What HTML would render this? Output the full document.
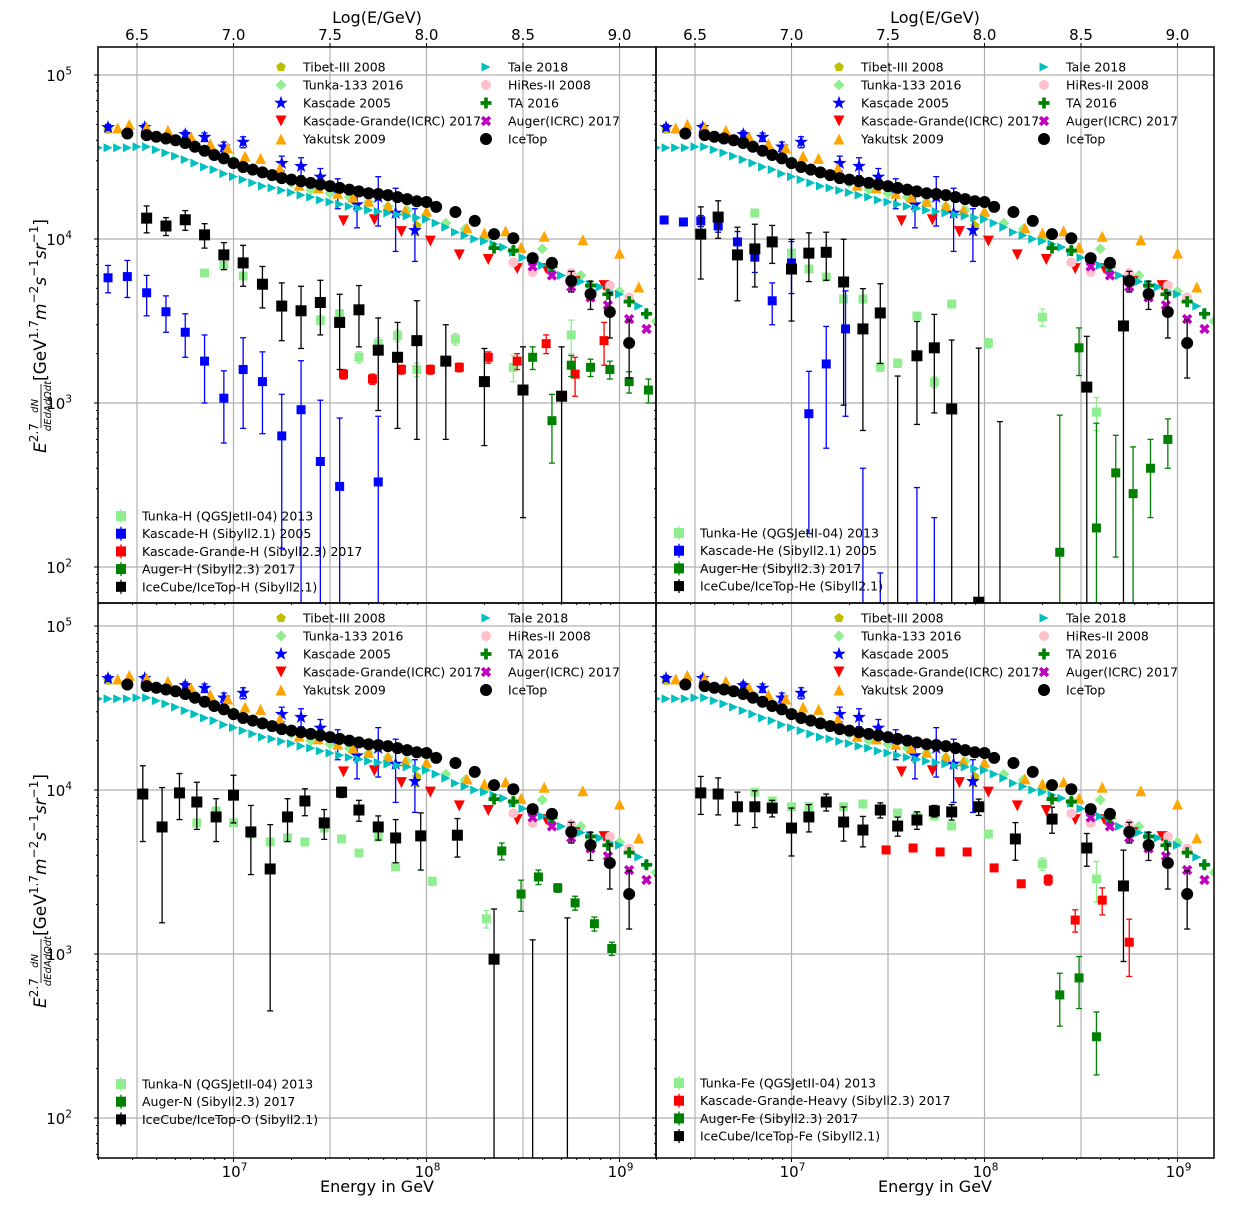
<!DOCTYPE html>
<html><head><meta charset="utf-8"><style>
html,body{margin:0;padding:0;background:#fff}
svg{display:block;font-family:"DejaVu Sans","Liberation Sans",sans-serif}
</style></head><body>
<svg id="chart" width="1255" height="1212" viewBox="0 0 1255 1212" xmlns="http://www.w3.org/2000/svg"></svg>
<script>
// ---------- all-particle data (log10 E/GeV, flux) ----------
const icetopE=[6.45,6.55,6.60,6.65,6.70,6.75,6.80,6.85,6.90,6.95,7.00,7.05,7.10,7.15,7.20,7.25,7.30,7.35,7.40,7.45,7.50,7.55,7.60,7.65,7.70,7.75,7.80,7.85,7.90,7.95,8.00,8.05,8.15,8.25,8.35,8.45,8.55,8.65,8.75,8.85,8.95,9.05];
const icetopF=[44000,43000,42000,41000,40000,38500,36500,34500,32500,31000,29000,27500,26500,25500,24500,23500,23000,22500,22000,21500,21000,20500,20000,19500,19000,18800,18500,18000,17500,17000,16800,15700,14600,12900,10700,10100,7650,7150,5550,4620,3590,2320];
const icetopErr=[0,0,0,0,0,0,0,0,0,0,0,0,0,0,0,0,0,0,0,0,0,0,0,0,0,0,0,0,0,0,0,0,0,0,0,0,0,500,800,900,1100,900];
const taleE=[6.30,6.35,6.40,6.45,6.50,6.55,6.60,6.65,6.70,6.75,6.80,6.85,6.90,6.95,7.00,7.05,7.10,7.15,7.20,7.25,7.30,7.35,7.40,7.45,7.50,7.55,7.60,7.65,7.70,7.75,7.80,7.85,7.90,7.95,8.00,8.05,8.10,8.15,8.20,8.25,8.30,8.35,8.40,8.45,8.50,8.55,8.60,8.65,8.70,8.75,8.80,8.85,8.90,8.95,9.00,9.05,9.10,9.15];
const taleF=[36000,36000,36000,36000,36500,36500,35000,33500,32000,30500,29000,27500,26500,25000,24000,23000,22000,21000,20500,19800,19200,18500,18000,17300,16800,16300,15800,15400,15000,14700,14400,14100,13800,13500,13200,12500,11800,11000,10500,10000,9700,9300,8900,8300,7700,7300,6900,6400,6000,5800,5500,5300,5100,4800,4600,4300,3900,3500];
const yakE=[6.40,6.46,6.55,6.66,6.78,6.88,6.97,7.06,7.14,7.24,7.34,7.44,7.54,7.62,7.70,7.80,7.89,8.00,8.21,8.30,8.41,8.49,8.61,8.81,9.00,9.10];
const yakF=[47500,50000,48000,46000,42000,38000,35900,32000,31000,27000,21300,20500,19000,18000,17000,16000,15000,14800,11700,10900,11200,8900,10400,9900,8200,5100];
const kascE=[6.35,6.54,6.75,6.85,6.95,7.05,7.25,7.35,7.45,7.54,7.64,7.75,7.84,7.94];
const kascF=[48000,48000,43500,41800,36500,39000,29000,27800,23900,19300,16200,18000,14400,11300];
const kascErr=[2000,2000,2000,2500,2500,3000,3000,3500,3000,4000,4500,6000,6000,4000];
const kgE=[7.57,7.73,7.87,8.02,8.17,8.32,8.47,8.62,8.77,8.92];
const kgF=[12900,13100,11100,9700,8000,7500,6600,6600,5500,5200];
const tibetE=[6.35,6.45,7.95];
const tibetF=[46500,45000,12000];
const tibetErr=[1500,1500,1500];
const tunkaE=[6.80,6.90,7.00,7.10,7.20,7.30,7.40,7.50,7.60,7.70,7.80,7.90,8.00,8.10,8.20,8.30,8.45,8.60,8.80,9.00,9.19];
const tunkaF=[38000,34000,30000,27000,24500,22000,20000,19000,18000,16800,15800,15000,14000,12500,11500,10000,8600,8700,6000,4800,3150];
const hiresE=[8.45,8.55,8.75,8.95,9.05];
const hiresF=[7200,6300,6200,5200,4400];
const taE=[8.35,8.45,8.55,8.65,8.75,8.85,8.94,9.05,9.14];
const taF=[8800,8500,7400,6800,5500,5200,4600,4150,3500];
const augE=[8.55,8.65,8.75,8.85,8.94,9.05,9.14];
const augF=[6800,6000,5100,4400,3950,3250,2830];

// ---------- H panel ----------
const tunkaHE=[6.85,6.95,7.05,7.45,7.55,7.65,7.75,7.85,7.95,8.15,8.45,8.75];
const tunkaHF=[6200,6900,5950,3200,3500,1900,2300,2570,1600,2450,1650,2600];
const tunkaHErr=[300,300,300,200,200,150,200,200,150,200,300,600];
const kascHE=[6.35,6.45,6.55,6.65,6.75,6.85,6.95,7.05,7.15,7.25,7.35,7.45,7.55,7.75];
const kascHF=[5800,5900,4700,3600,2700,1800,1070,1600,1350,630,910,440,310,330];
const kascHErr=[1100,1500,1300,900,800,800,500,900,700,500,900,600,500,500];
const kgHE=[7.57,7.72,7.87,8.02,8.17,8.32,8.47,8.62,8.77,8.92];
const kgHF=[1500,1400,1600,1600,1650,1900,1800,2300,1500,2400];
const kgHErr=[100,100,100,100,100,150,200,300,400,700];
const augHE=[8.55,8.65,8.75,8.85,8.95,9.05,9.15];
const augHF=[1900,780,1700,1650,1600,1350,1200];
const augHErr=[300,350,250,200,200,200,200];
const icHE=[6.55,6.65,6.75,6.85,6.95,7.05,7.15,7.25,7.35,7.45,7.55,7.65,7.75,7.85,7.95,8.10,8.30,8.50,8.70];
const icHF=[13400,12000,13100,10600,8000,7150,5300,3900,3650,4100,3100,3700,2100,1900,2400,1800,1350,1200,1100];
const icHErr=[2500,1500,1800,1800,1500,2000,1500,1500,1500,1500,1500,1500,1200,1200,1800,1200,800,1000,1100];

// ---------- He panel ----------
const tunkaHeE=[6.81,7.00,7.09,7.18,7.27,7.37,7.46,7.55,7.65,7.74,7.83,8.02,8.30,8.58];
const tunkaHeF=[14400,8200,6560,5860,4300,4300,1660,1750,3390,1340,4010,2320,3340,880];
const tunkaHeErr=[500,400,300,300,200,200,100,100,150,100,150,150,400,200];
const kascHeE=[6.34,6.44,6.53,6.62,6.72,6.81,6.90,7.00,7.09,7.18,7.28,7.37,7.46,7.65,7.74];
const kascHeF=[13060,12700,12900,12000,9600,7750,4200,7150,860,1730,2830,40,40,40,40];
const kascHeErr=[500,500,1000,1000,1500,1500,1200,2500,700,1200,2000,360,52,265,160];
const augHeE=[8.39,8.49,8.58,8.68,8.77,8.86,8.95];
const augHeF=[123,2170,173,375,280,400,600];
const augHeErr=[720,700,580,260,260,200,200];
const icHeE=[6.53,6.62,6.72,6.81,6.90,7.00,7.09,7.18,7.27,7.37,7.46,7.55,7.65,7.74,7.83,7.97,8.08,8.53,8.72];
const icHeF=[10700,13600,8000,8700,9600,6560,8200,8300,5470,2830,3540,50,1940,2170,920,61,50,1250,2950];
const icHeErr=[5000,3500,3800,3600,2500,3400,2700,2700,4500,2150,1800,1410,1200,1300,1500,2100,720,1300,3000];

// ---------- N panel ----------
const tunkaNE=[6.81,6.91,7.00,7.09,7.19,7.28,7.37,7.47,7.56,7.65,7.75,7.84,8.03,8.31];
const tunkaNF=[6300,7450,6300,5400,4820,5100,4820,5860,5030,4130,5170,3400,2780,1640];
const tunkaNErr=[300,300,250,250,200,200,200,250,200,150,200,150,150,200];
const augNE=[8.39,8.49,8.58,8.68,8.77,8.87,8.96];
const augNF=[4250,2320,2950,2530,2050,1530,1080];
const augNErr=[500,500,300,150,200,150,100];
const icOE=[6.53,6.63,6.72,6.81,6.91,7.00,7.09,7.19,7.28,7.37,7.47,7.56,7.65,7.75,7.84,7.97,8.16,8.35,8.55,8.73];
const icOF=[9450,5950,9600,8450,6850,9300,5550,3300,6850,8570,6300,9700,7550,5950,5100,5250,5300,930,50,50];
const icOErr=[4600,4400,3000,2700,2000,3000,2500,2850,2000,1600,1300,700,1100,1000,1500,2000,1400,950,1170,1610];

// ---------- Fe panel ----------
const tunkaFeE=[6.81,6.90,7.00,7.09,7.27,7.37,7.55,7.65,7.74,7.83,8.02,8.30,8.58];
const tunkaFeF=[9700,8570,7900,7900,7900,8220,7240,6940,6940,6030,5390,3540,2870];
const tunkaFeErr=[300,300,300,300,300,300,300,300,300,250,250,300,800];
const kgFeE=[7.49,7.63,7.77,7.91,8.05,8.19,8.33,8.47,8.61,8.75];
const kgFeF=[4310,4430,4190,4190,3350,2680,2830,1610,2130,1180];
const kgFeErr=[100,100,100,100,100,100,200,250,400,450];
const augFeE=[8.39,8.49,8.58];
const augFeF=[563,715,313];
const augFeErr=[200,250,130];
const icFeE=[6.53,6.62,6.72,6.81,6.90,7.00,7.09,7.18,7.27,7.37,7.46,7.55,7.65,7.74,7.83,7.97,8.16,8.35,8.53,8.72];
const icFeF=[9600,9450,7900,7900,7750,5860,6850,8450,6380,5700,7550,6030,6560,7450,7350,7900,5030,6650,4430,2600];
const icFeErr=[2500,2400,1800,2000,900,1900,1300,1000,1500,1200,800,800,800,600,800,900,1300,1200,1000,1700];

// ---------- axis ticks ----------
const topTickVals=[6.5,7.0,7.5,8.0,8.5,9.0];
const topTickLabels=["6.5","7.0","7.5","8.0","8.5","9.0"];
const xDecades=[7,8,9];
const yDecades=[5,4,3,2];

const NS="http://www.w3.org/2000/svg";
const svg=document.getElementById('chart');
function mk(tag,attrs,parent){const e=document.createElementNS(NS,tag);for(const k in attrs)e.setAttribute(k,attrs[k]);(parent||svg).appendChild(e);return e;}

const panels=[
 {id:'h',x0:98,x1:656,y0:47,y1:603,y5:75,top:true,left:true},
 {id:'he',x0:656,x1:1214,y0:47,y1:603,y5:75,top:true,left:false},
 {id:'n',x0:98,x1:656,y0:603,y1:1158,y5:626,top:false,left:true},
 {id:'fe',x0:656,x1:1214,y0:603,y1:1158,y5:626,top:false,left:false}
];
const DEC=193, DECY=164;

function marker(g,shape,x,y,s,fill){
  let e;
  if(shape==='o'){e=mk('circle',{cx:x,cy:y,r:s/2,fill:fill},g);}
  else if(shape==='s'){e=mk('rect',{x:x-s/2,y:y-s/2,width:s,height:s,fill:fill},g);}
  else if(shape==='^'){e=mk('polygon',{points:`${x},${y-s/2} ${x-s/2},${y+s/2} ${x+s/2},${y+s/2}`,fill:fill},g);}
  else if(shape==='v'){e=mk('polygon',{points:`${x},${y+s/2} ${x-s/2},${y-s/2} ${x+s/2},${y-s/2}`,fill:fill},g);}
  else if(shape==='>'){e=mk('polygon',{points:`${x+s/2},${y} ${x-s/2},${y-s/2} ${x-s/2},${y+s/2}`,fill:fill},g);}
  else if(shape==='D'){e=mk('polygon',{points:`${x},${y-s/2} ${x+s/2},${y} ${x},${y+s/2} ${x-s/2},${y}`,fill:fill},g);}
  else if(shape==='*'){let p=[];for(let i=0;i<10;i++){const r=i%2?s*0.22:s*0.55;const a=-Math.PI/2+i*Math.PI/5;p.push((x+r*Math.cos(a)).toFixed(1)+','+(y+r*Math.sin(a)).toFixed(1));}e=mk('polygon',{points:p.join(' '),fill:fill},g);}
  else if(shape==='p'){let p=[];for(let i=0;i<5;i++){const a=-Math.PI/2+i*2*Math.PI/5;p.push((x+s/2*Math.cos(a)).toFixed(1)+','+(y+s/2*Math.sin(a)).toFixed(1));}e=mk('polygon',{points:p.join(' '),fill:fill},g);}
  else if(shape==='P'){const a=s/2,b=s/6;e=mk('polygon',{points:`${x-b},${y-a} ${x+b},${y-a} ${x+b},${y-b} ${x+a},${y-b} ${x+a},${y+b} ${x+b},${y+b} ${x+b},${y+a} ${x-b},${y+a} ${x-b},${y+b} ${x-a},${y+b} ${x-a},${y-b} ${x-b},${y-b}`,fill:fill},g);}
  else if(shape==='X'){e=mk('g',{transform:`rotate(45 ${x} ${y})`},g);const a=s/2,b=s/6;mk('polygon',{points:`${x-b},${y-a} ${x+b},${y-a} ${x+b},${y-b} ${x+a},${y-b} ${x+a},${y+b} ${x+b},${y+b} ${x+b},${y+a} ${x-b},${y+a} ${x-b},${y+b} ${x-a},${y+b} ${x-a},${y-b} ${x-b},${y-b}`,fill:fill},e);}
  return e;
}

const allSeries=[
 {name:'tibet-iii-2008',E:tibetE,F:tibetF,err:tibetErr,shape:'p',size:10,color:'#bfbf00',label:'Tibet-III 2008',col:0,row:0},
 {name:'tunka-133-2016',E:tunkaE,F:tunkaF,shape:'D',size:11,color:'#90ee90',label:'Tunka-133 2016',col:0,row:1},
 {name:'kascade-2005',E:kascE,F:kascF,err:kascErr,shape:'*',size:13,color:'#0000ff',label:'Kascade 2005',col:0,row:2},
 {name:'kascade-grande-icrc-2017',E:kgE,F:kgF,shape:'v',size:11,color:'#ff0000',label:'Kascade-Grande(ICRC) 2017',col:0,row:3},
 {name:'yakutsk-2009',E:yakE,F:yakF,shape:'^',size:11,color:'#ffa500',label:'Yakutsk 2009',col:0,row:4},
 {name:'tale-2018',E:taleE,F:taleF,shape:'>',size:9,color:'#00bfbf',label:'Tale 2018',col:1,row:0},
 {name:'hires-ii-2008',E:hiresE,F:hiresF,shape:'o',size:10,color:'#ffc0cb',label:'HiRes-II 2008',col:1,row:1},
 {name:'ta-2016',E:taE,F:taF,shape:'P',size:11,color:'#008000',label:'TA 2016',col:1,row:2},
 {name:'auger-icrc-2017',E:augE,F:augF,shape:'X',size:11,color:'#bf00bf',label:'Auger(ICRC) 2017',col:1,row:3},
 {name:'icetop',E:icetopE,F:icetopF,err:icetopErr,shape:'o',size:12,color:'#000000',label:'IceTop',col:1,row:4}
];
const compSeries={
 h:[{name:'tunka-h',E:tunkaHE,F:tunkaHF,err:tunkaHErr,color:'#90ee90',size:9,label:'Tunka-H (QGSJetII-04) 2013'},
    {name:'kascade-h',E:kascHE,F:kascHF,err:kascHErr,color:'#0000ff',size:9,label:'Kascade-H (Sibyll2.1) 2005'},
    {name:'kascade-grande-h',E:kgHE,F:kgHF,err:kgHErr,color:'#ff0000',size:9,label:'Kascade-Grande-H (Sibyll2.3) 2017'},
    {name:'auger-h',E:augHE,F:augHF,err:augHErr,color:'#008000',size:9,label:'Auger-H (Sibyll2.3) 2017'},
    {name:'icecube-icetop-h',E:icHE,F:icHF,err:icHErr,color:'#000000',size:11,label:'IceCube/IceTop-H (Sibyll2.1)'}],
 he:[{name:'tunka-he',E:tunkaHeE,F:tunkaHeF,err:tunkaHeErr,color:'#90ee90',size:9,label:'Tunka-He (QGSJetII-04) 2013'},
    {name:'kascade-he',E:kascHeE,F:kascHeF,err:kascHeErr,color:'#0000ff',size:9,label:'Kascade-He (Sibyll2.1) 2005'},
    {name:'auger-he',E:augHeE,F:augHeF,err:augHeErr,color:'#008000',size:9,label:'Auger-He (Sibyll2.3) 2017'},
    {name:'icecube-icetop-he',E:icHeE,F:icHeF,err:icHeErr,color:'#000000',size:11,label:'IceCube/IceTop-He (Sibyll2.1)'}],
 n:[{name:'tunka-n',E:tunkaNE,F:tunkaNF,err:tunkaNErr,color:'#90ee90',size:9,label:'Tunka-N (QGSJetII-04) 2013'},
    {name:'auger-n',E:augNE,F:augNF,err:augNErr,color:'#008000',size:9,label:'Auger-N (Sibyll2.3) 2017'},
    {name:'icecube-icetop-o',E:icOE,F:icOF,err:icOErr,color:'#000000',size:11,label:'IceCube/IceTop-O (Sibyll2.1)'}],
 fe:[{name:'tunka-fe',E:tunkaFeE,F:tunkaFeF,err:tunkaFeErr,color:'#90ee90',size:9,label:'Tunka-Fe (QGSJetII-04) 2013'},
    {name:'kascade-grande-heavy',E:kgFeE,F:kgFeF,err:kgFeErr,color:'#ff0000',size:9,label:'Kascade-Grande-Heavy (Sibyll2.3) 2017'},
    {name:'auger-fe',E:augFeE,F:augFeF,err:augFeErr,color:'#008000',size:9,label:'Auger-Fe (Sibyll2.3) 2017'},
    {name:'icecube-icetop-fe',E:icFeE,F:icFeF,err:icFeErr,color:'#000000',size:11,label:'IceCube/IceTop-Fe (Sibyll2.1)'}]
};
const compLegendY={h:516,he:533,n:1084,fe:1083};

function supText(parent,x,y,base,sup,anchor,size){
  const t=mk('text',{x:x,y:y,'font-size':size,'text-anchor':anchor||'start',fill:'#000'},parent);
  const a=mk('tspan',{},t);a.textContent=base;
  const b=mk('tspan',{dy:-size*0.45,'font-size':size*0.7},t);b.textContent=sup;
  return t;
}

panels.forEach(p=>{
  const xs=v=>p.x0+135.5+(v-7)*DEC;
  const ys=f=>p.y5+(5-Math.log10(f))*DECY;
  const g=mk('g',{});
  
  
  const cid='clip-'+p.id;
  const cp=mk('clipPath',{id:cid},mk('defs',{},g));
  mk('rect',{x:p.x0,y:p.y0,width:p.x1-p.x0,height:p.y1-p.y0},cp);
  const grid=mk('g',{stroke:'#b0b0b0','stroke-width':1.2,'clip-path':`url(#${cid})`},g);
  
  
  topTickVals.forEach(v=>mk('line',{x1:xs(v),x2:xs(v),y1:p.y0,y2:p.y1},grid));
  yDecades.forEach(d=>mk('line',{x1:p.x0,x2:p.x1,y1:ys(Math.pow(10,d)),y2:ys(Math.pow(10,d))},grid));
  const tk=mk('g',{stroke:'#000','stroke-width':1},g);
  for(let d=1;d<=5;d++){for(let m=1;m<10;m++){const y=ys(m*Math.pow(10,d));if(y<p.y0||y>p.y1)continue;const L=m===1?4:2;mk('line',{x1:p.x0-L,x2:p.x0,y1:y,y2:y},tk);}}
  for(let d=6;d<=9;d++){for(let m=1;m<10;m++){const x=xs(d+Math.log10(m));if(x<p.x0||x>p.x1)continue;const L=m===1?4:2;mk('line',{x1:x,x2:x,y1:p.y1,y2:p.y1+L},tk);}}
  if(p.top){topTickVals.forEach((v,i)=>{mk('line',{x1:xs(v),x2:xs(v),y1:p.y0,y2:p.y0-4},tk);
    const t=mk('text',{x:xs(v),y:p.y0-7,'font-size':15,'text-anchor':'middle',fill:'#000'},g);t.textContent=topTickLabels[i];
    });
    const tt=mk('text',{x:(p.x0+p.x1)/2,y:23,'font-size':16,'text-anchor':'middle',fill:'#000'},g);tt.textContent='Log(E/GeV)';
    }
  if(p.left){yDecades.forEach(d=>{const y=ys(Math.pow(10,d));const t=supText(g,p.x0-26,y+6,'10',String(d),'end',15);
    });}
  if(!p.top){xDecades.forEach(d=>{const t=supText(g,xs(d)+1,p.y1+19,'10',String(d),'middle',15);
    });
    const xt=mk('text',{x:(p.x0+p.x1)/2,y:1192,'font-size':16,'text-anchor':'middle',fill:'#000'},g);xt.textContent='Energy in GeV';
    }
  const dg=mk('g',{'clip-path':`url(#${cid})`},g);
  function drawSeries(s,shape){
    const sg=mk('g',{},dg);
    
    
    s.E.forEach((e,i)=>{
      const x=xs(e),y=ys(s.F[i]);
      if(s.err&&s.err[i]>0){
        const hi=ys(s.F[i]+s.err[i]);const lo=s.F[i]-s.err[i]>0?ys(s.F[i]-s.err[i]):p.y1+20;
        mk('line',{x1:x,x2:x,y1:hi,y2:lo,stroke:s.color,'stroke-width':1.3},sg);
        mk('line',{x1:x-3,x2:x+3,y1:hi,y2:hi,stroke:s.color,'stroke-width':1.3},sg);
        mk('line',{x1:x-3,x2:x+3,y1:lo,y2:lo,stroke:s.color,'stroke-width':1.3},sg);
      }
      const m=marker(sg,shape,x,y,s.size,s.color);
      
      
    });
  }
  compSeries[p.id].forEach(s=>drawSeries(s,'s'));
  allSeries.forEach(s=>drawSeries(s,s.shape));
  const lg=mk('g',{},g);
  
  
  const ly0=p.y0+(p.top?20:15);
  allSeries.forEach(s=>{
    const mx=p.x0+(s.col?388:183), y=ly0+s.row*18;
    const e=mk('g',{},lg);
    
    
    marker(e,s.shape,mx,y,s.size,s.color);
    const t=mk('text',{x:mx+22,y:y+4.5,'font-size':12.5,fill:'#000'},e);t.textContent=s.label;
  });
  const lc=mk('g',{},g);
  
  
  compSeries[p.id].forEach((s,i)=>{
    const mx=p.x0+23,y=compLegendY[p.id]+i*17.7;
    const e=mk('g',{},lc);
    
    
    mk('line',{x1:mx,x2:mx,y1:y-7,y2:y+7,stroke:s.color,'stroke-width':1.3},e);
    mk('rect',{x:mx-5,y:y-5,width:10,height:10,fill:s.color},e);
    const t=mk('text',{x:mx+21,y:y+4.5,'font-size':12.5,fill:'#000'},e);t.textContent=s.label;
  });
  const fr=mk('rect',{x:p.x0,y:p.y0,width:p.x1-p.x0,height:p.y1-p.y0,fill:'none',stroke:'#000','stroke-width':1.5},g);
  
  
});

[325,880].forEach(cy=>{
  const g=mk('g',{transform:`translate(46,${cy}) rotate(-90)`});
  
  
  const t=mk('text',{x:-128,y:0,'font-size':17,fill:'#000'},g);
  const a=mk('tspan',{'font-style':'italic'},t);a.textContent='E';
  const b=mk('tspan',{dy:-8,'font-size':12},t);b.textContent='2.7';
  const n=mk('text',{x:-81,y:-8,'font-size':10,'font-style':'italic','text-anchor':'middle',fill:'#000'},g);n.textContent='dN';
  mk('line',{x1:-103,x2:-59,y1:-5,y2:-5,stroke:'#000','stroke-width':0.8},g);
  const d=mk('text',{x:-81,y:5,'font-size':10,'font-style':'italic','text-anchor':'middle',fill:'#000'},g);d.textContent='dEdAdΩdt';
  const r=mk('text',{x:-56,y:0,'font-size':17,fill:'#000'},g);
  const parts=[['[GeV',0,17,'normal'],['1.7',-8,12,'normal'],['m',8,17,'italic'],['−2',-8,12,'normal'],['s',8,17,'italic'],['−1',-8,12,'normal'],['sr',8,17,'italic'],['−1',-8,12,'normal'],[']',8,17,'normal']];
  parts.forEach(q=>{const s=mk('tspan',{dy:q[1],'font-size':q[2],'font-style':q[3]},r);s.textContent=q[0];});
});
</script>
</body></html>
